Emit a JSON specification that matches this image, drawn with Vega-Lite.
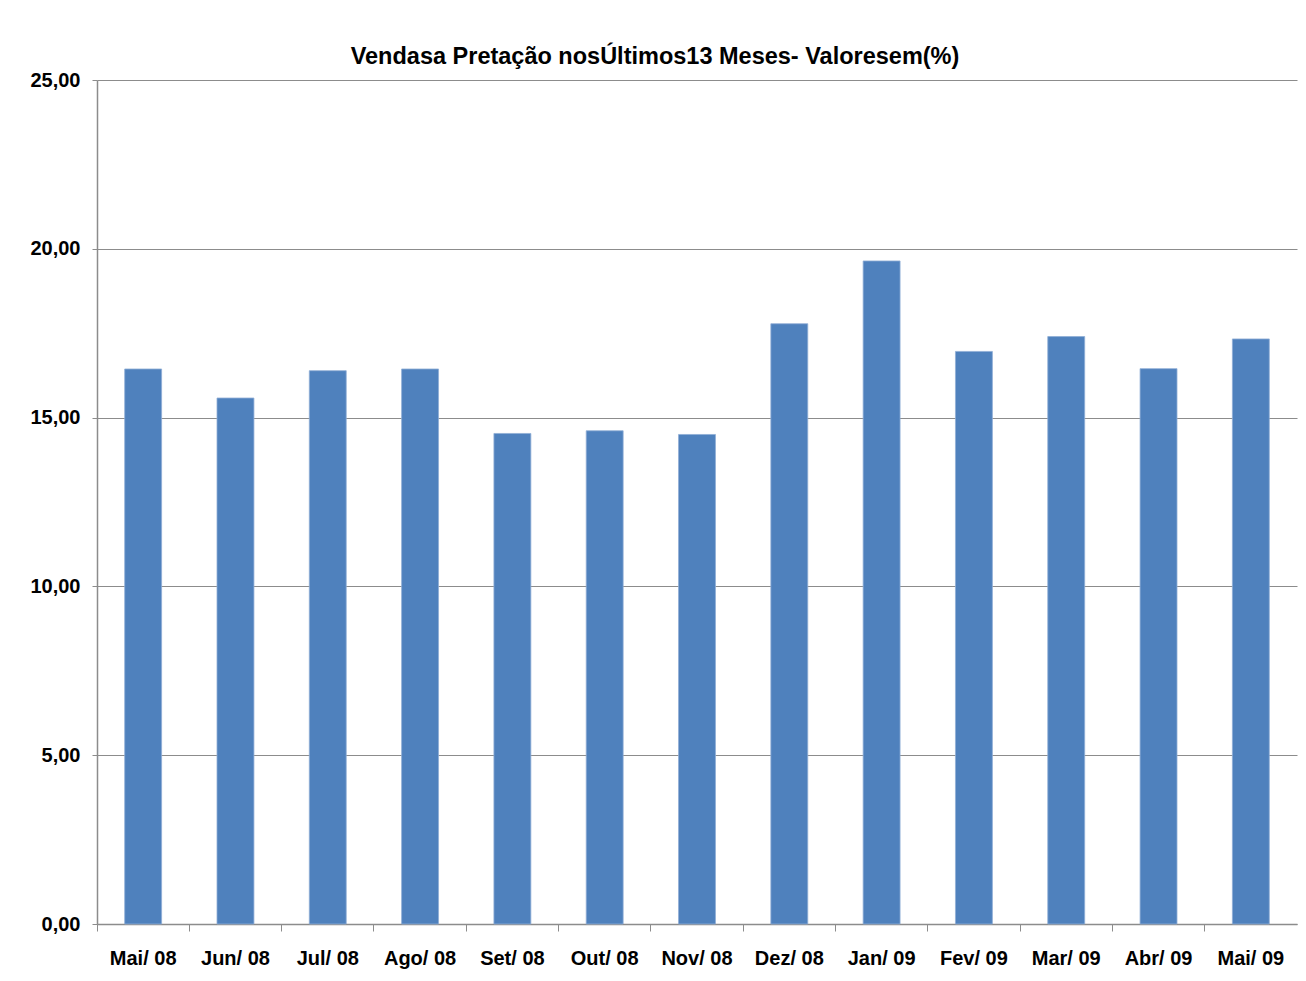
{
  "$schema": "https://vega.github.io/schema/vega-lite/v6.json",
  "width": 1200,
  "height": 844,
  "autosize": {"type": "none"},
  "padding": {"left": 97, "top": 80, "right": 9, "bottom": 57},
  "background": "white",
  "title": {
    "text": "Vendasa Pretação nosÚltimos13 Meses- Valoresem(%)",
    "font": "Liberation Sans",
    "fontSize": 23.5,
    "fontWeight": "bold",
    "color": "black",
    "anchor": "middle",
    "dx": -42,
    "dy": 29,
    "offset": 12,
    "baseline": "alphabetic"
  },
  "data": {
    "values": [
      {"mes": "Mai/ 08", "valor": 16.44},
      {"mes": "Jun/ 08", "valor": 15.58},
      {"mes": "Jul/ 08", "valor": 16.39},
      {"mes": "Ago/ 08", "valor": 16.44},
      {"mes": "Set/ 08", "valor": 14.53},
      {"mes": "Out/ 08", "valor": 14.61},
      {"mes": "Nov/ 08", "valor": 14.50},
      {"mes": "Dez/ 08", "valor": 17.78},
      {"mes": "Jan/ 09", "valor": 19.64},
      {"mes": "Fev/ 09", "valor": 16.96},
      {"mes": "Mar/ 09", "valor": 17.40},
      {"mes": "Abr/ 09", "valor": 16.45},
      {"mes": "Mai/ 09", "valor": 17.33}
    ]
  },
  "mark": {"type": "bar", "width": {"band": 0.4}, "color": "#4f81bd", "stroke": "#8fadd6", "strokeWidth": 0.8},
  "encoding": {
    "x": {
      "field": "mes",
      "type": "nominal",
      "sort": null,
      "scale": {"paddingInner": 0, "paddingOuter": 0},
      "axis": {
        "title": null,
        "labelAngle": 0,
        "bandPosition": 0,
        "labelFont": "Liberation Sans",
        "labelFontSize": 20,
        "labelFontWeight": "bold",
        "labelColor": "black",
        "labelPadding": 17,
        "tickSize": 7,
        "tickColor": "#8c8c8c",
        "domainColor": "#8c8c8c",
        "domainWidth": 1.5,
        "grid": false
      }
    },
    "y": {
      "field": "valor",
      "type": "quantitative",
      "scale": {"domain": [0, 25], "nice": false},
      "axis": {
        "title": null,
        "values": [0, 5, 10, 15, 20, 25],
        "labelExpr": "replace(format(datum.value, '.2f'), '.', ',')",
        "labelFont": "Liberation Sans",
        "labelFontSize": 20,
        "labelFontWeight": "bold",
        "labelColor": "black",
        "labelPadding": 12,
        "tickSize": 5,
        "tickColor": "#8c8c8c",
        "domainColor": "#8c8c8c",
        "domainWidth": 1.5,
        "grid": true,
        "gridColor": "#8c8c8c",
        "gridWidth": 1.2
      }
    }
  },
  "config": {"view": {"stroke": null}}
}
